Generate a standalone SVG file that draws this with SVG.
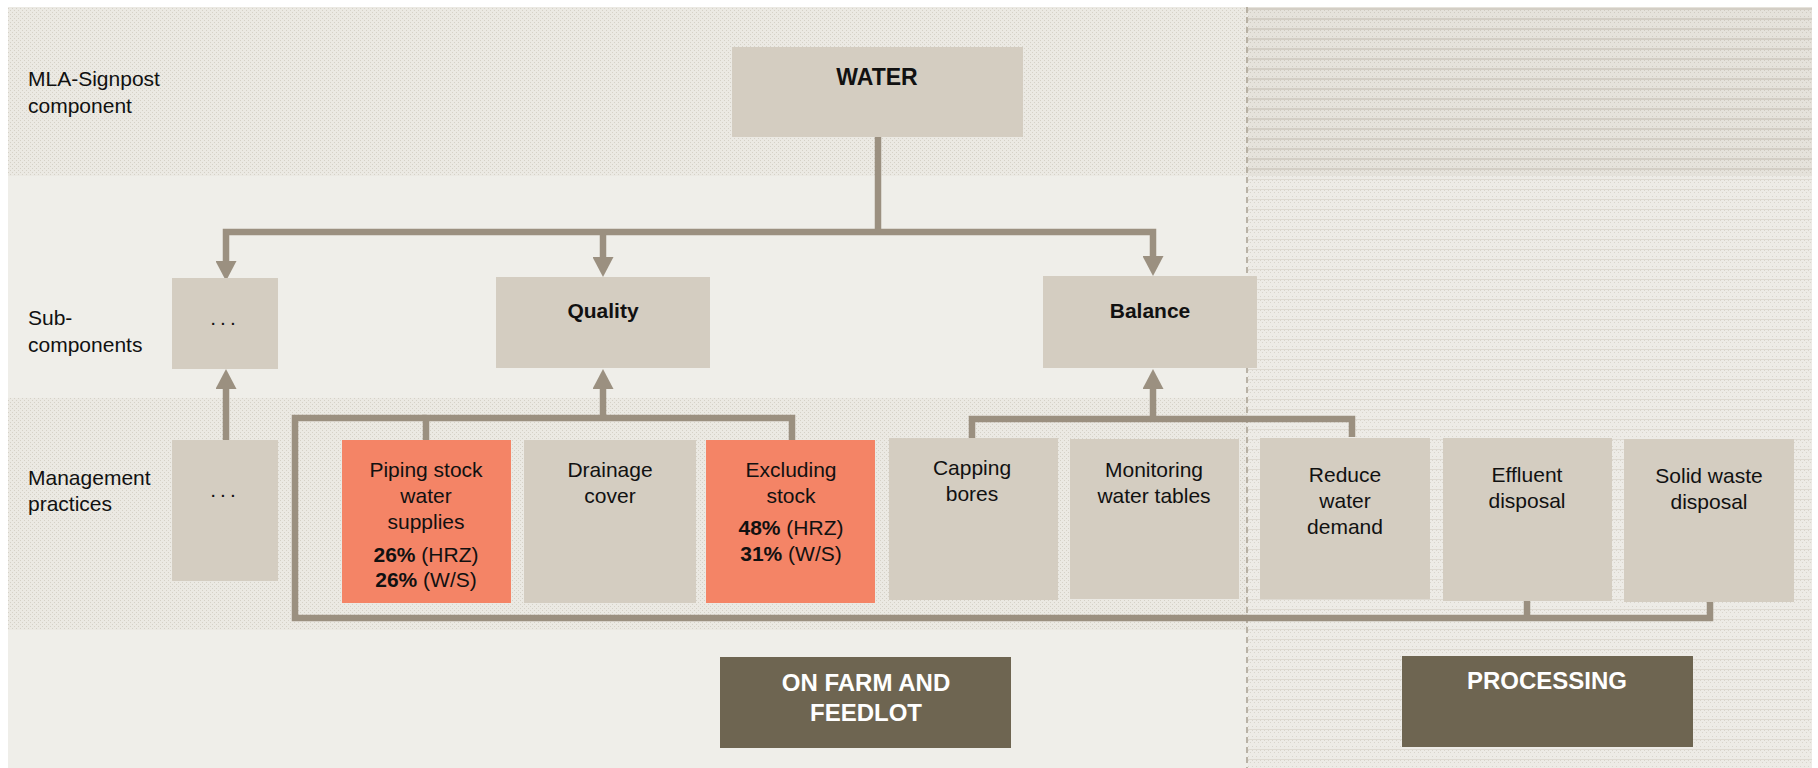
<svg xmlns="http://www.w3.org/2000/svg" width="1818" height="768" viewBox="0 0 1818 768">
<defs>
<pattern id="dots" width="4" height="4" patternUnits="userSpaceOnUse"><rect width="4" height="4" fill="#ebe9e3"/><rect width="1" height="1" fill="#d5d1c7"/><rect x="2" y="2" width="1" height="1" fill="#d5d1c7"/></pattern>
<pattern id="rlight" width="4" height="10" patternUnits="userSpaceOnUse"><rect width="4" height="10" fill="#edebe6"/><rect width="1" height="1" fill="#d9d5cc"/><rect x="2" y="2" width="1" height="1" fill="#d9d5cc"/><rect x="0" y="6" width="1" height="1" fill="#d9d5cc"/><rect y="9" width="4" height="1" fill="#dedad2"/></pattern>
<pattern id="rdark" width="4" height="10" patternUnits="userSpaceOnUse"><rect width="4" height="10" fill="#e5e2db"/><rect width="1" height="1" fill="#d0cbc1"/><rect x="2" y="2" width="1" height="1" fill="#d0cbc1"/><rect x="0" y="6" width="1" height="1" fill="#d0cbc1"/><rect y="8" width="4" height="2" fill="#d3cec5"/></pattern>
<marker id="arrow" viewBox="0 0 20 21" refX="10" refY="10.5" markerWidth="20" markerHeight="21" markerUnits="userSpaceOnUse" orient="auto-start-reverse"><path d="M0,0 L20,10.5 L0,21 z" fill="#9b9080"/></marker>
</defs>
<style>
.box{fill:#d4cdc1}
.hot{fill:#f48466}
.band{fill:#6e6551}
.t{font-family:"Liberation Sans",Arial,sans-serif;font-size:21px;fill:#111}
.c{text-anchor:middle}
.b{font-weight:bold}
.w{fill:#ffffff;font-weight:bold;font-size:24px}
.con{fill:none;stroke:#9b9080;stroke-width:6.5;stroke-linejoin:miter}
</style>
<rect width="1818" height="768" fill="#ffffff"/>
<g id="background">
<rect x="8" y="7" width="1240" height="761" fill="#efeee9"/>
<rect x="8" y="7" width="1240" height="169" fill="url(#dots)"/>
<rect x="8" y="398" width="1240" height="232" fill="url(#dots)"/>
<rect x="1248" y="7" width="564" height="761" fill="url(#rlight)"/>
<rect x="1248" y="7" width="564" height="169" fill="url(#rdark)"/>
<line x1="1247" y1="7" x2="1247" y2="768" stroke="#a89f90" stroke-width="1.5" stroke-dasharray="6,4"/>
</g>
<g id="row-labels">
<text class="t" x="28" y="86">MLA-Signpost</text>
<text class="t" x="28" y="113">component</text>
<text class="t" x="28" y="325">Sub-</text>
<text class="t" x="28" y="352">components</text>
<text class="t" x="28" y="485">Management</text>
<text class="t" x="28" y="511">practices</text>
</g>
<g id="connectors">
<path class="con" d="M878,137 V232"/>
<path class="con" d="M226,271 V232 H1153 V266" marker-start="url(#arrow)" marker-end="url(#arrow)"/>
<path class="con" d="M603,232 V267" marker-end="url(#arrow)"/>
<path class="con" d="M226,440 V379" marker-end="url(#arrow)"/>
<path class="con" d="M603,418 V379" marker-end="url(#arrow)"/>
<path class="con" d="M1153,419 V379" marker-end="url(#arrow)"/>
<path class="con" d="M426,440 V418 H792 V440"/>
<path class="con" d="M426,418 H295 V618 H1710 V601"/>
<path class="con" d="M1527,601 V618"/>
<path class="con" d="M972,438 V419 H1352 V437"/>
</g>
<g id="water">
<rect class="box" x="732" y="47" width="291" height="90"/>
<text class="t c b" x="877" y="85" style="font-size:23px">WATER</text>
</g>
<g id="sub-other">
<rect class="box" x="172" y="278" width="106" height="91"/>
<text class="t c" x="225" y="325" letter-spacing="4">...</text>
</g>
<g id="quality">
<rect class="box" x="496" y="277" width="214" height="91"/>
<text class="t c b" x="603" y="318">Quality</text>
</g>
<g id="balance">
<rect class="box" x="1043" y="276" width="214" height="92"/>
<text class="t c b" x="1150" y="318">Balance</text>
</g>
<g id="mp-other">
<rect class="box" x="172" y="440" width="106" height="141"/>
<text class="t c" x="225" y="497" letter-spacing="4">...</text>
</g>
<g id="piping">
<rect class="hot" x="342" y="440" width="169" height="163"/>
<text class="t c" x="426" y="477">Piping stock</text>
<text class="t c" x="426" y="503">water</text>
<text class="t c" x="426" y="529">supplies</text>
<text class="t c" x="426" y="562"><tspan class="b">26%</tspan> (HRZ)</text>
<text class="t c" x="426" y="587"><tspan class="b">26%</tspan> (W/S)</text>
</g>
<g id="drainage">
<rect class="box" x="524" y="440" width="172" height="163"/>
<text class="t c" x="610" y="477">Drainage</text>
<text class="t c" x="610" y="503">cover</text>
</g>
<g id="excluding">
<rect class="hot" x="706" y="440" width="169" height="163"/>
<text class="t c" x="791" y="477">Excluding</text>
<text class="t c" x="791" y="503">stock</text>
<text class="t c" x="791" y="535"><tspan class="b">48%</tspan> (HRZ)</text>
<text class="t c" x="791" y="561"><tspan class="b">31%</tspan> (W/S)</text>
</g>
<g id="capping">
<rect class="box" x="889" y="438" width="169" height="162"/>
<text class="t c" x="972" y="475">Capping</text>
<text class="t c" x="972" y="501">bores</text>
</g>
<g id="monitoring">
<rect class="box" x="1070" y="439" width="169" height="160"/>
<text class="t c" x="1154" y="477">Monitoring</text>
<text class="t c" x="1154" y="503">water tables</text>
</g>
<g id="reduce">
<rect class="box" x="1260" y="438" width="170" height="161"/>
<text class="t c" x="1345" y="482">Reduce</text>
<text class="t c" x="1345" y="508">water</text>
<text class="t c" x="1345" y="534">demand</text>
</g>
<g id="effluent">
<rect class="box" x="1443" y="438" width="169" height="163"/>
<text class="t c" x="1527" y="482">Effluent</text>
<text class="t c" x="1527" y="508">disposal</text>
</g>
<g id="solid">
<rect class="box" x="1624" y="439" width="170" height="163"/>
<text class="t c" x="1709" y="483">Solid waste</text>
<text class="t c" x="1709" y="509">disposal</text>
</g>
<g id="on-farm">
<rect class="band" x="720" y="657" width="291" height="91"/>
<text class="t c w" x="866" y="691">ON FARM AND</text>
<text class="t c w" x="866" y="721">FEEDLOT</text>
</g>
<g id="processing">
<rect class="band" x="1402" y="656" width="291" height="91"/>
<text class="t c w" x="1547" y="689">PROCESSING</text>
</g>
</svg>
